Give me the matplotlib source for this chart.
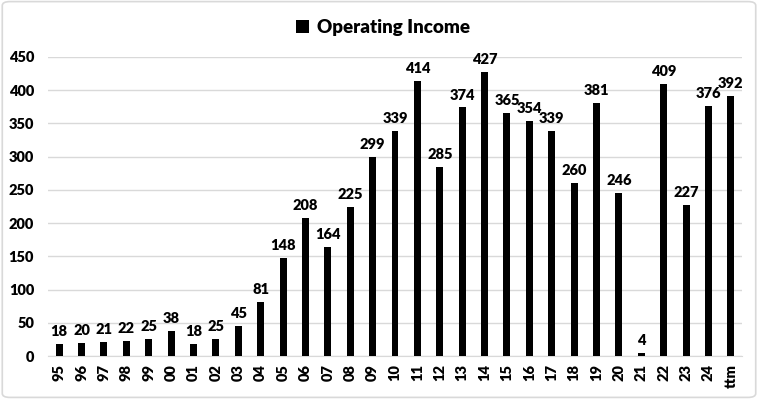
import matplotlib
matplotlib.use("Agg")
import matplotlib.pyplot as plt
from matplotlib.patches import FancyBboxPatch

categories = ["95","96","97","98","99","00","01","02","03","04","05","06","07","08","09",
              "10","11","12","13","14","15","16","17","18","19","20","21","22","23","24","ttm"]
values = [18,20,21,22,25,38,18,25,45,81,148,208,164,225,299,
          339,414,285,374,427,365,354,339,260,381,246,4,409,227,376,392]
yticks = [0,50,100,150,200,250,300,350,400,450]

W = 'heavy'
plt.rcParams['font.family'] = ['Lato', 'DejaVu Sans']
plt.rcParams['font.weight'] = W

fig = plt.figure(figsize=(7.58, 3.99), dpi=100)
ax = fig.add_axes([48/758, 1-356/399, 694/758, (356-57)/399])

x = list(range(len(categories)))
bars = ax.bar(x, values, width=0.31, color='black', label='Operating Income', zorder=3)
for xi, v in zip(x, values):
    ax.text(xi, v + 9, str(v), ha='center', va='bottom', fontsize=10.5, fontweight=W)

ax.set_xlim(-0.5, len(categories) - 0.5)
ax.set_ylim(0, 450)
ax.set_yticks(yticks)
ax.set_yticklabels([str(t) for t in yticks], fontsize=10.5, fontweight=W)
ax.set_xticks(x)
ax.set_xticklabels(categories, rotation=90, fontsize=10.5, fontweight=W)
ax.yaxis.grid(True, color='#d9d9d9', linewidth=1, zorder=0)
for s in ['top', 'right', 'left']:
    ax.spines[s].set_visible(False)
ax.spines['bottom'].set_color('#d9d9d9')
ax.tick_params(axis='y', length=0, pad=10)
ax.tick_params(axis='x', length=0, pad=6)

fig.legend(handles=[bars], labels=['Operating Income'], loc='upper center',
           bbox_to_anchor=(0.505, 0.995), frameon=False,
           handlelength=0.7, handleheight=0.7, handletextpad=0.4,
           prop={'weight': W, 'size': 13.5})

border = FancyBboxPatch((0.003, 0.004), 0.994, 0.992, boxstyle="round,pad=0,rounding_size=0.01",
                        transform=fig.transFigure, fill=False, edgecolor='#d9d9d9', linewidth=1.2)
fig.patches.append(border)

fig.savefig('out.png', dpi=100)
